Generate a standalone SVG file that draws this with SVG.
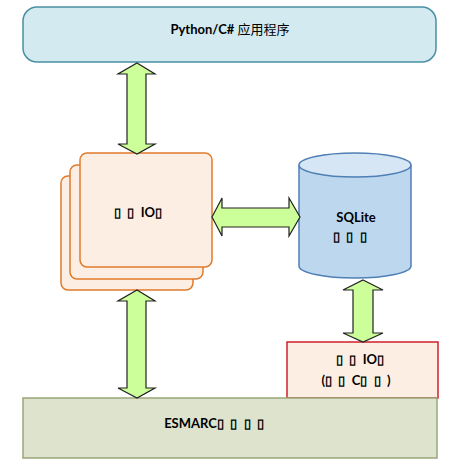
<svg xmlns="http://www.w3.org/2000/svg" width="464" height="469" viewBox="0 0 464 469">
<style>
text{font-family:"Lato","Open Sans","Noto Sans CJK SC",sans-serif;font-weight:bold;font-size:13px;fill:#000;text-anchor:middle;white-space:pre}
.arr{fill:#ccff99;stroke:#222;stroke-width:1.2;stroke-linejoin:miter}
.io{fill:#fdeee4;stroke:#e07b2b;stroke-width:1.5}
</style>
<rect width="464" height="469" fill="#fff"/>
<g id="app">
<rect x="23" y="7" width="413" height="55" rx="14" fill="#d3ebf0" stroke="#4a90a4" stroke-width="1.5"/>
<text x="230" y="34">Python/C# <tspan font-family="Noto Sans CJK SC" font-weight="normal">应用程序</tspan></text>
</g>
<g id="io-stack">
<rect class="io" x="61" y="176" width="132" height="114" rx="7"/>
<rect class="io" x="70" y="165" width="133" height="114" rx="7"/>
<rect class="io" x="80" y="153" width="132" height="114" rx="7"/>
<text x="138" y="217" xml:space="preserve">▯  ▯  IO▯</text>
</g>
<g id="sqlite">
<path d="M299,165 V266 A56,12 0 0 0 411,266 V165" fill="#bdd7ee" stroke="#4f7fb5" stroke-width="1.5"/>
<ellipse cx="355" cy="165" rx="56" ry="12" fill="#d6e6f5" stroke="#4f7fb5" stroke-width="1.5"/>
<text x="356" y="222">SQLite</text>
<text x="350" y="241" xml:space="preserve">▯  ▯  ▯</text>
</g>
<g id="io-c">
<rect x="287" y="342" width="151" height="56" fill="#fdeee4" stroke="#d0202a" stroke-width="1.5"/>
<text x="360" y="364" xml:space="preserve">▯  ▯  IO▯</text>
<text x="356" y="385" xml:space="preserve">(▯  ▯  C▯  ▯  )</text>
</g>
<g id="esmarc">
<rect x="23" y="398" width="414" height="60" fill="#dde3cd" stroke="#9aa67a" stroke-width="1.5"/>
<text x="214" y="428" xml:space="preserve">ESMARC▯  ▯  ▯  ▯</text>
</g>
<g id="connectors">
<path class="arr" d="M137,63 L155,74 H146 V144 H155 L137,154 L118,144 H127 V74 H118 Z"/>
<path class="arr" d="M137,290 L155,301 H146 V388 H155 L137,398 L118,388 H127 V301 H118 Z"/>
<path class="arr" d="M212,217 L222,198 V208 H289 V198 L300,217 L289,236 V227 H222 V236 Z"/>
<path class="arr" d="M363,280 L383,290 H373 V333 H383 L363,342 L343,333 H353 V290 H343 Z"/>
</g>
</svg>
